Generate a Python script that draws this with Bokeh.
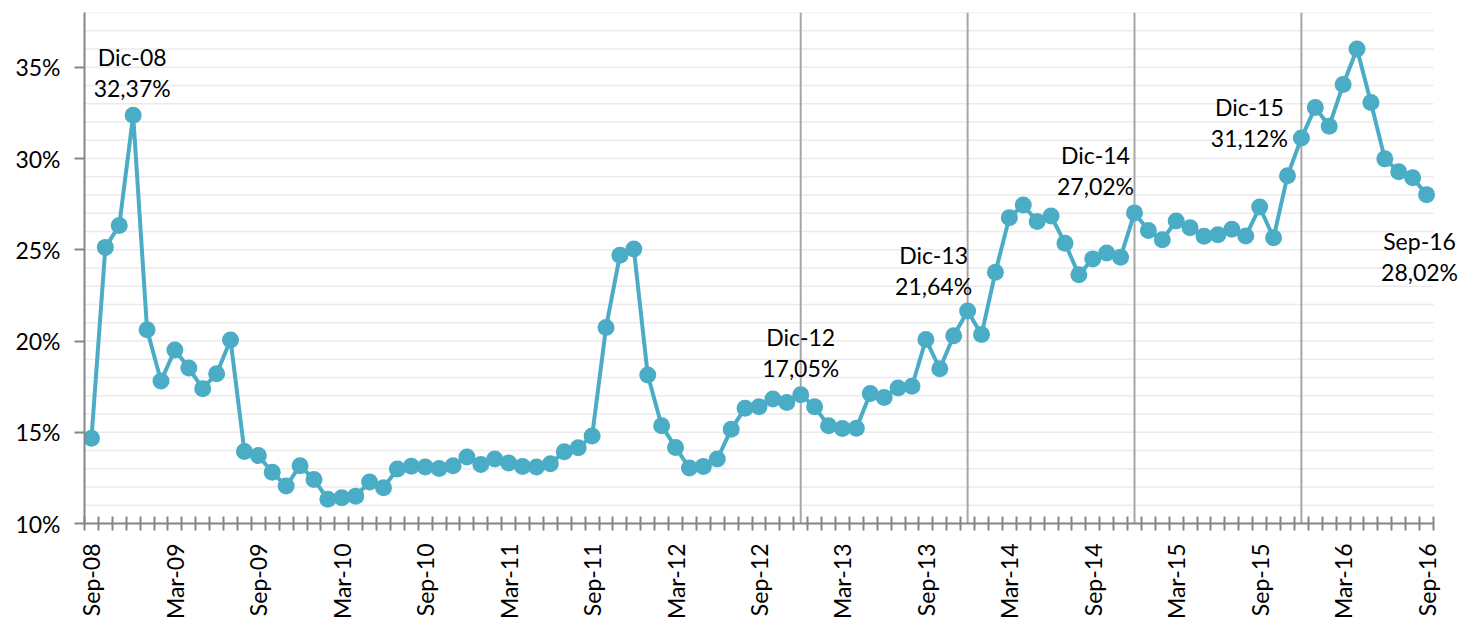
import numpy as np
from bokeh.plotting import figure
from bokeh.models import FixedTicker, Range1d, ColumnDataSource
from bokeh.core.properties import value
from bokeh.embed import file_html
from bokeh.resources import INLINE

# Monthly values, Sep-08 ... Sep-16 (percent)
values = [14.67, 25.13, 26.33, 32.37, 20.62, 17.81, 19.51, 18.52, 17.39, 18.21,
          20.05, 13.95, 13.72, 12.81, 12.05, 13.17, 12.41, 11.33, 11.41, 11.50,
          12.28, 11.96, 12.99, 13.14, 13.10, 13.01, 13.17, 13.64, 13.23, 13.53,
          13.32, 13.12, 13.10, 13.28, 13.93, 14.15, 14.80, 20.74, 24.70, 25.04,
          18.14, 15.36, 14.17, 13.04, 13.13, 13.53, 15.16, 16.32, 16.40, 16.82,
          16.63, 17.05, 16.40, 15.35, 15.20, 15.22, 17.12, 16.90, 17.43, 17.52,
          20.08, 18.48, 20.29, 21.64, 20.35, 23.77, 26.76, 27.45, 26.55, 26.85,
          25.36, 23.63, 24.50, 24.82, 24.59, 27.02, 26.05, 25.55, 26.58, 26.20,
          25.74, 25.82, 26.12, 25.75, 27.34, 25.66, 29.05, 31.12, 32.80, 31.77,
          34.05, 36.00, 33.07, 29.98, 29.28, 28.95, 28.02]

x_tick_labels = ["Sep-08", "Mar-09", "Sep-09", "Mar-10", "Sep-10", "Mar-11",
                 "Sep-11", "Mar-12", "Sep-12", "Mar-13", "Sep-13", "Mar-14",
                 "Sep-14", "Mar-15", "Sep-15", "Mar-16", "Sep-16"]
x_tick_step = 6

y_ticks = [10, 15, 20, 25, 30, 35]
y_min, y_max = 10, 38

ann_index = [3, 51, 63, 75, 87, 96]
ann_month = ["Dic-08", "Dic-12", "Dic-13", "Dic-14", "Dic-15", "Sep-16"]

vline_index = [51, 63, 75, 87]

# layout offsets (pixels, screen y downward) for annotation texts
ann_dx = [-1, 0, -34, -39, -52, -7]
ann_dy_month = [-58, -58, -56, -58, -31, 46]
ann_dy_value = [-27, -27, -25, -27, 0, 77]

FONT = "Lato"
FS = "23px"
COLOR = "#4BACC6"
AXIS = "#868686"
GRID = "#ebebeb"
VLINE = "#a6a6a6"

n = len(values)
xs = list(range(n))

# plot area of the categories is 1349 px wide; frame extends to page edge
W, LEFT = 1460, 84
cat_px = 1349
frame_px = W - LEFT
x_end = -0.5 + n * frame_px / cat_px

p = figure(width=W, height=622,
           x_range=Range1d(-0.5, x_end), y_range=Range1d(y_min, y_max),
           output_backend="svg", toolbar_location=None,
           min_border_left=LEFT, min_border_right=0,
           min_border_top=12, min_border_bottom=94)
p.outline_line_color = None
p.background_fill_color = "white"
p.border_fill_color = "white"
p.xgrid.visible = False
p.ygrid.visible = False

# horizontal gridlines limited to the category area
gy = list(range(y_min + 1, y_max + 1))
p.segment(x0=[-0.5] * len(gy), x1=[n - 0.5] * len(gy), y0=gy, y1=gy,
          line_color=GRID, line_width=1.5)

# vertical marker lines at December points
p.segment(x0=vline_index, x1=vline_index,
          y0=[y_min] * len(vline_index), y1=[y_max] * len(vline_index),
          line_color=VLINE, line_width=2)

p.line(xs, values, line_color=COLOR, line_width=4)
p.scatter(xs, values, size=17, fill_color=COLOR, line_color=None)

# annotations
src = ColumnDataSource(dict(
    x=ann_index,
    y=[values[i] for i in ann_index],
    month=ann_month,
    val=[f"{values[i]:.2f}%".replace(".", ",") for i in ann_index],
    dx=ann_dx, dym=ann_dy_month, dyv=ann_dy_value,
))
for col, dy in (("month", "dym"), ("val", "dyv")):
    p.text(x="x", y="y", text=col, source=src, x_offset="dx", y_offset=dy,
           text_align="center", text_baseline="alphabetic",
           text_font=value(FONT), text_font_size=FS, text_color="#000000")

# y axis
ya = p.yaxis[0]
ya.ticker = FixedTicker(ticks=y_ticks)
ya.major_label_overrides = {t: f"{t}%" for t in y_ticks}
ya.major_tick_out = 10
ya.major_tick_in = 0
ya.minor_tick_out = 0
ya.minor_tick_in = 0
ya.axis_line_color = AXIS
ya.axis_line_width = 2
ya.major_tick_line_color = AXIS
ya.major_tick_line_width = 2
ya.major_label_text_font = FONT
ya.major_label_text_font_size = FS
ya.major_label_text_color = "#000000"
ya.major_label_standoff = 14

# x axis
xa = p.xaxis[0]
label_pos = list(range(0, n, x_tick_step))
xa.ticker = FixedTicker(ticks=label_pos, minor_ticks=[i - 0.5 for i in range(n + 1)])
xa.major_label_overrides = {pos: lab for pos, lab in zip(label_pos, x_tick_labels)}
xa.bounds = (-0.5, n - 0.5)
xa.major_tick_out = 0
xa.major_tick_in = 0
xa.minor_tick_in = 7
xa.minor_tick_out = 7
xa.minor_tick_line_color = AXIS
xa.minor_tick_line_width = 2
xa.axis_line_color = AXIS
xa.axis_line_width = 2
xa.major_label_orientation = np.pi / 2
xa.major_label_standoff = 13
xa.major_label_text_font = FONT
xa.major_label_text_font_size = FS
xa.major_label_text_color = "#000000"

open("out.html", "w").write(file_html(p, INLINE))
